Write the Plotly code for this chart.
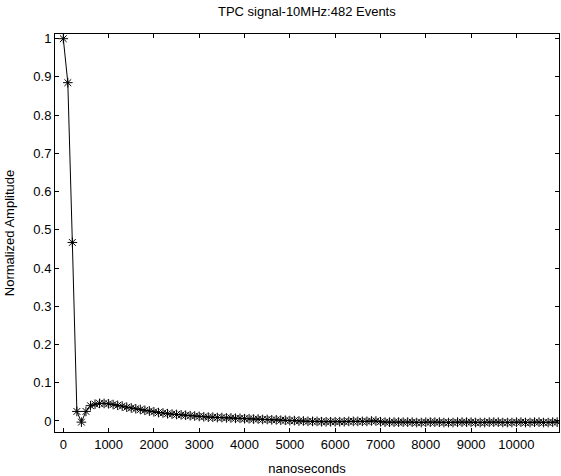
import plotly.graph_objects as go

time_ns = [i * 100 for i in range(110)]
amplitude = [
    1.000, 0.885, 0.467, 0.025, -0.003, 0.025, 0.040, 0.044, 0.046, 0.046,
    0.045, 0.043, 0.041, 0.039, 0.036, 0.034, 0.032, 0.030, 0.028, 0.026,
    0.024, 0.022, 0.021, 0.019, 0.018, 0.017, 0.016, 0.015, 0.014, 0.013,
    0.012, 0.011, 0.010, 0.010, 0.009, 0.009, 0.008, 0.008, 0.007, 0.007,
    0.006, 0.006, 0.005, 0.005, 0.004, 0.004, 0.003, 0.003, 0.002, 0.002,
    0.001, 0.001, 0.000, 0.000, -0.001, -0.001, -0.001, -0.002, -0.002, -0.002,
    -0.002, -0.002, -0.002, -0.001, -0.001, -0.001, -0.001, -0.001, 0.000, 0.000,
    -0.002, -0.003, -0.003, -0.003, -0.003, -0.003, -0.003, -0.003, -0.004, -0.004,
    -0.003, -0.003, -0.003, -0.003, -0.004, -0.004, -0.004, -0.003, -0.003, -0.003,
    -0.003, -0.004, -0.004, -0.004, -0.003, -0.003, -0.003, -0.004, -0.004, -0.004,
    -0.003, -0.003, -0.004, -0.004, -0.003, -0.003, -0.004, -0.004, -0.003, -0.003,
]
x_ticks = list(range(0, 10001, 1000))
y_ticks = [round(i * 0.1, 1) for i in range(11)]
y_tick_labels = ["0"] + [f"{v:g}" for v in y_ticks[1:-1]] + ["1"]

font = "Liberation Sans, Arial, Helvetica, sans-serif"

fig = go.Figure()
fig.add_trace(go.Scatter(
    x=time_ns, y=amplitude, mode="lines+markers",
    line=dict(color="black", width=1),
    marker=dict(symbol="asterisk-open", size=8, color="black",
                line=dict(color="black", width=1)),
    showlegend=False,
))

axis_common = dict(
    showline=True, linecolor="black", linewidth=1, mirror="allticks",
    ticks="inside", ticklen=4, tickcolor="black", tickwidth=1,
    showgrid=False, zeroline=False, automargin=False,
    tickfont=dict(family=font, size=13, color="black"),
)

fig.update_layout(
    width=561, height=476,
    paper_bgcolor="white", plot_bgcolor="white",
    margin=dict(l=55, r=2, t=34, b=44),
    title=dict(text="TPC signal-10MHz:482 Events", x=0.547, xanchor="center",
               y=0.975, yanchor="middle",
               font=dict(family=font, size=13, color="black")),
    xaxis=dict(range=[-183, 10940], tickvals=x_ticks,
               ticktext=[str(v) for v in x_ticks],
               title=dict(text="nanoseconds",
                          font=dict(family=font, size=13, color="black")),
               **axis_common),
    yaxis=dict(range=[-0.0288, 1.0123], tickvals=y_ticks, ticktext=y_tick_labels,
               title=dict(text="Normalized Amplitude",
                          font=dict(family=font, size=13, color="black")),
               **axis_common),
)

fig.write_html("out.html",
               config={"displayModeBar": False},
               post_script="document.body.style.margin='0';document.body.style.overflow='hidden';")
